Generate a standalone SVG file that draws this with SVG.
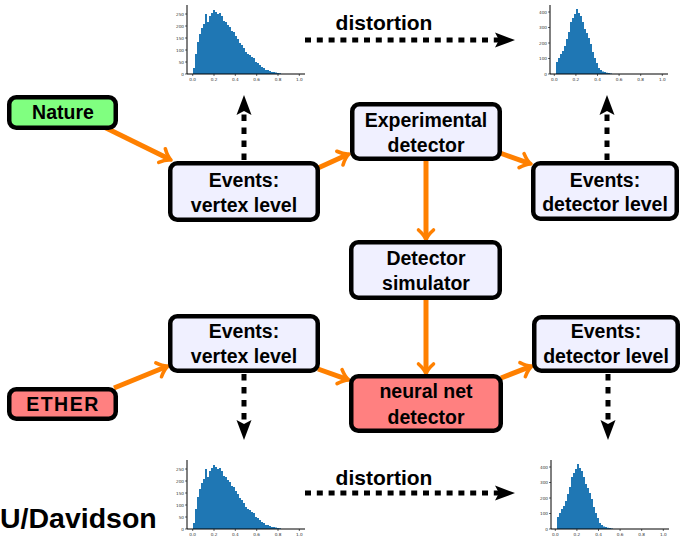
<svg xmlns="http://www.w3.org/2000/svg" xmlns:xlink="http://www.w3.org/1999/xlink" width="682" height="536" viewBox="0 0 682 536">
  <style>
    .box { fill: #f0f0ff; stroke: #000; stroke-width: 4.5; }
    .green { fill: #80ff80; }
    .red { fill: #ff8080; }
    .lbl { font-family: "Liberation Sans", "DejaVu Sans", sans-serif; font-weight: bold; font-size: 19.5px; text-anchor: middle; fill: #000; }
    .big { font-family: "Liberation Sans", "DejaVu Sans", sans-serif; font-weight: bold; font-size: 21px; text-anchor: middle; fill: #000; }
    .flow { fill: none; stroke: #ff8000; stroke-width: 5; marker-end: url(#orangeTip); }
    .dots { fill: none; stroke: #000; stroke-width: 5; marker-end: url(#blackTip); }
    .vdots { stroke-dasharray: 6.5 6.5; }
    .hdots { stroke-dasharray: 6 5.8; }
    .bars { fill: #1f77b4; }
    .spine { fill: none; stroke: #000; stroke-width: 1; }
    .tick { fill: none; stroke: #000; stroke-width: 0.6; }
    .tl { font-family: "DejaVu Sans", sans-serif; font-size: 4.2px; fill: #333; }
    .tly { text-anchor: end; }
    .tlx { text-anchor: middle; }
  </style>
  <defs>
    <marker id="orangeTip" markerUnits="userSpaceOnUse" viewBox="-13 -10 16 20" markerWidth="16" markerHeight="20" refX="-2" refY="0" orient="auto" overflow="visible">
      <path d="M-10,-7.5 C-6,-3 -2.5,-0.8 0,0 C-2.5,0.8 -6,3 -10,7.5" fill="none" stroke="#ff8000" stroke-width="3.6" stroke-linecap="round" stroke-linejoin="round"/>
    </marker>
    <marker id="blackTip" markerUnits="userSpaceOnUse" viewBox="-22 -10 24 20" markerWidth="24" markerHeight="20" refX="-16" refY="0" orient="auto" overflow="visible">
      <path d="M0,0 L-20,-7.5 L-16,0 L-20,7.5 Z" fill="#000"/>
    </marker>

    <!-- broad, skewed distribution (vertex level) -->
    <g id="histBroad">
      <path class="bars" d="M193,74 V68 H195 V54 H197 V42 H199 V34 H201 V28 H203 V24 H205 V14 H207 V22 H209 V16 H211 V13 H213 V10 H215 V12 H217 V14 H219 V13 H221 V16 H223 V21 H225 V22 H227 V25 H229 V27 H231 V31 H233 V32 H235 V36 H237 V39 H239 V43 H241 V45 H243 V48 H245 V52 H247 V54 H249 V55 H251 V57 H253 V58 H255 V62 H257 V63 H259 V65 H261 V67 H263 V68 H265 V70 H267 V70 H269 V71 H271 V72 H273 V72 H275 V72.5 H277 V73 H279 V73.2 H281 V74 Z"/>
      <path class="spine" d="M187,5 V74 H305"/>
      <path class="tick" d="M185,74 H187 M185,62 H187 M185,50 H187 M185,38 H187 M185,26 H187 M185,14 H187 M192.7,74 V76 M214,74 V76 M235.3,74 V76 M256.7,74 V76 M278,74 V76 M299.3,74 V76"/>
      <g class="tl tly">
        <text x="184" y="75.5">0</text>
        <text x="184" y="63.5">50</text>
        <text x="184" y="51.5">100</text>
        <text x="184" y="39.5">150</text>
        <text x="184" y="27.5">200</text>
        <text x="184" y="15.5">250</text>
      </g>
      <g class="tl tlx">
        <text x="192.7" y="80.5">0.0</text>
        <text x="214" y="80.5">0.2</text>
        <text x="235.3" y="80.5">0.4</text>
        <text x="256.7" y="80.5">0.6</text>
        <text x="278" y="80.5">0.8</text>
        <text x="299.3" y="80.5">1.0</text>
      </g>
    </g>

    <!-- narrow distribution (detector level) -->
    <g id="histNarrow">
      <path class="bars" d="M556,74 V62 H558 V58 H560 V54 H562 V51 H564 V46 H566 V39 H568 V32 H570 V22 H572 V18 H574 V14 H576 V9 H578 V13 H580 V16 H582 V22 H584 V29 H586 V33 H588 V38 H590 V44 H592 V52 H594 V58 H596 V63 H598 V68 H600 V70 H602 V71.5 H604 V72 H606 V72.7 H608 V73 H610 V73.4 H612 V74 Z"/>
      <path class="spine" d="M550,5 V74 H668"/>
      <path class="tick" d="M548,74 H550 M548,58.5 H550 M548,43 H550 M548,27.5 H550 M548,12 H550 M554.3,74 V76 M575.9,74 V76 M597.5,74 V76 M619.1,74 V76 M640.7,74 V76 M662.3,74 V76"/>
      <g class="tl tly">
        <text x="547" y="75.5">0</text>
        <text x="547" y="60">100</text>
        <text x="547" y="44.5">200</text>
        <text x="547" y="29">300</text>
        <text x="547" y="13.5">400</text>
      </g>
      <g class="tl tlx">
        <text x="554.3" y="80.5">0.0</text>
        <text x="575.9" y="80.5">0.2</text>
        <text x="597.5" y="80.5">0.4</text>
        <text x="619.1" y="80.5">0.6</text>
        <text x="640.7" y="80.5">0.8</text>
        <text x="662.3" y="80.5">1.0</text>
      </g>
    </g>
  </defs>

  <rect width="682" height="536" fill="#fff"/>

  <!-- histograms -->
  <g id="hist-vertex-top"><use href="#histBroad" xlink:href="#histBroad"/></g>
  <g id="hist-detector-top"><use href="#histNarrow" xlink:href="#histNarrow"/></g>
  <g id="hist-vertex-bottom"><use href="#histBroad" xlink:href="#histBroad" transform="translate(0,455)"/></g>
  <g id="hist-detector-bottom"><use href="#histNarrow" xlink:href="#histNarrow" transform="translate(1,455)"/></g>

  <!-- connectors -->
  <g id="connectors">
    <path class="flow" d="M104,127 L169.2,159.1"/>
    <path class="flow" d="M318,168 L347.2,154.8"/>
    <path class="flow" d="M500,153 L529.1,163.3"/>
    <path class="flow" d="M426,160 L426,238"/>
    <path class="flow" d="M426,299 L426,372"/>
    <path class="flow" d="M114,388 L166.1,366.8"/>
    <path class="flow" d="M318,369 L347.1,379.3"/>
    <path class="flow" d="M501,378 L530.1,366.7"/>

    <path class="dots vdots" d="M244,160 V111"/>
    <path class="dots vdots" d="M607,160 V111"/>
    <path class="dots vdots" d="M244,374 V424"/>
    <path class="dots vdots" d="M608,374 V424"/>
    <path class="dots hdots" d="M305,40 H499"/>
    <path class="dots hdots" d="M305,493 H499"/>

    <text class="big" x="384" y="30">distortion</text>
    <text class="big" x="384" y="485">distortion</text>
  </g>

  <!-- nodes -->
  <g id="nature">
    <rect class="box green" x="9.25" y="97.25" width="106.5" height="30.5" rx="7"/>
    <text class="lbl" x="63" y="118.5">Nature</text>
  </g>
  <g id="events-vertex-top">
    <rect class="box" x="170.25" y="163.25" width="147.5" height="56.5" rx="7"/>
    <text class="lbl" x="244" y="187">Events:</text>
    <text class="lbl" x="244" y="212">vertex level</text>
  </g>
  <g id="experimental-detector">
    <rect class="box" x="352.25" y="104.25" width="147.5" height="54.5" rx="7"/>
    <text class="lbl" x="426" y="127">Experimental</text>
    <text class="lbl" x="426" y="152">detector</text>
  </g>
  <g id="events-detector-top">
    <rect class="box" x="533.25" y="163.25" width="143.5" height="55.5" rx="7"/>
    <text class="lbl" x="605" y="187">Events:</text>
    <text class="lbl" x="605" y="211">detector level</text>
  </g>
  <g id="detector-simulator">
    <rect class="box" x="351.25" y="242.25" width="148.5" height="55.5" rx="7"/>
    <text class="lbl" x="426" y="264.5">Detector</text>
    <text class="lbl" x="426" y="290">simulator</text>
  </g>
  <g id="events-vertex-bottom">
    <rect class="box" x="170.25" y="316.25" width="147.5" height="54.5" rx="7"/>
    <text class="lbl" x="244" y="338">Events:</text>
    <text class="lbl" x="244" y="363">vertex level</text>
  </g>
  <g id="ether">
    <rect class="box red" x="9.25" y="389.25" width="106.5" height="29.5" rx="7"/>
    <text class="lbl" x="63" y="411" letter-spacing="1.5">ETHER</text>
  </g>
  <g id="neural-net-detector">
    <rect class="box red" x="351.25" y="376.25" width="149.5" height="54.5" rx="7"/>
    <text class="lbl" x="426" y="398">neural net</text>
    <text class="lbl" x="426" y="424">detector</text>
  </g>
  <g id="events-detector-bottom">
    <rect class="box" x="534.25" y="317.25" width="143.5" height="53.5" rx="7"/>
    <text class="lbl" x="606" y="338">Events:</text>
    <text class="lbl" x="606" y="363">detector level</text>
  </g>

  <text x="0" y="528" font-family="Liberation Sans, DejaVu Sans, sans-serif" font-weight="bold" font-size="28.5" fill="#000">U/Davidson</text>
</svg>
